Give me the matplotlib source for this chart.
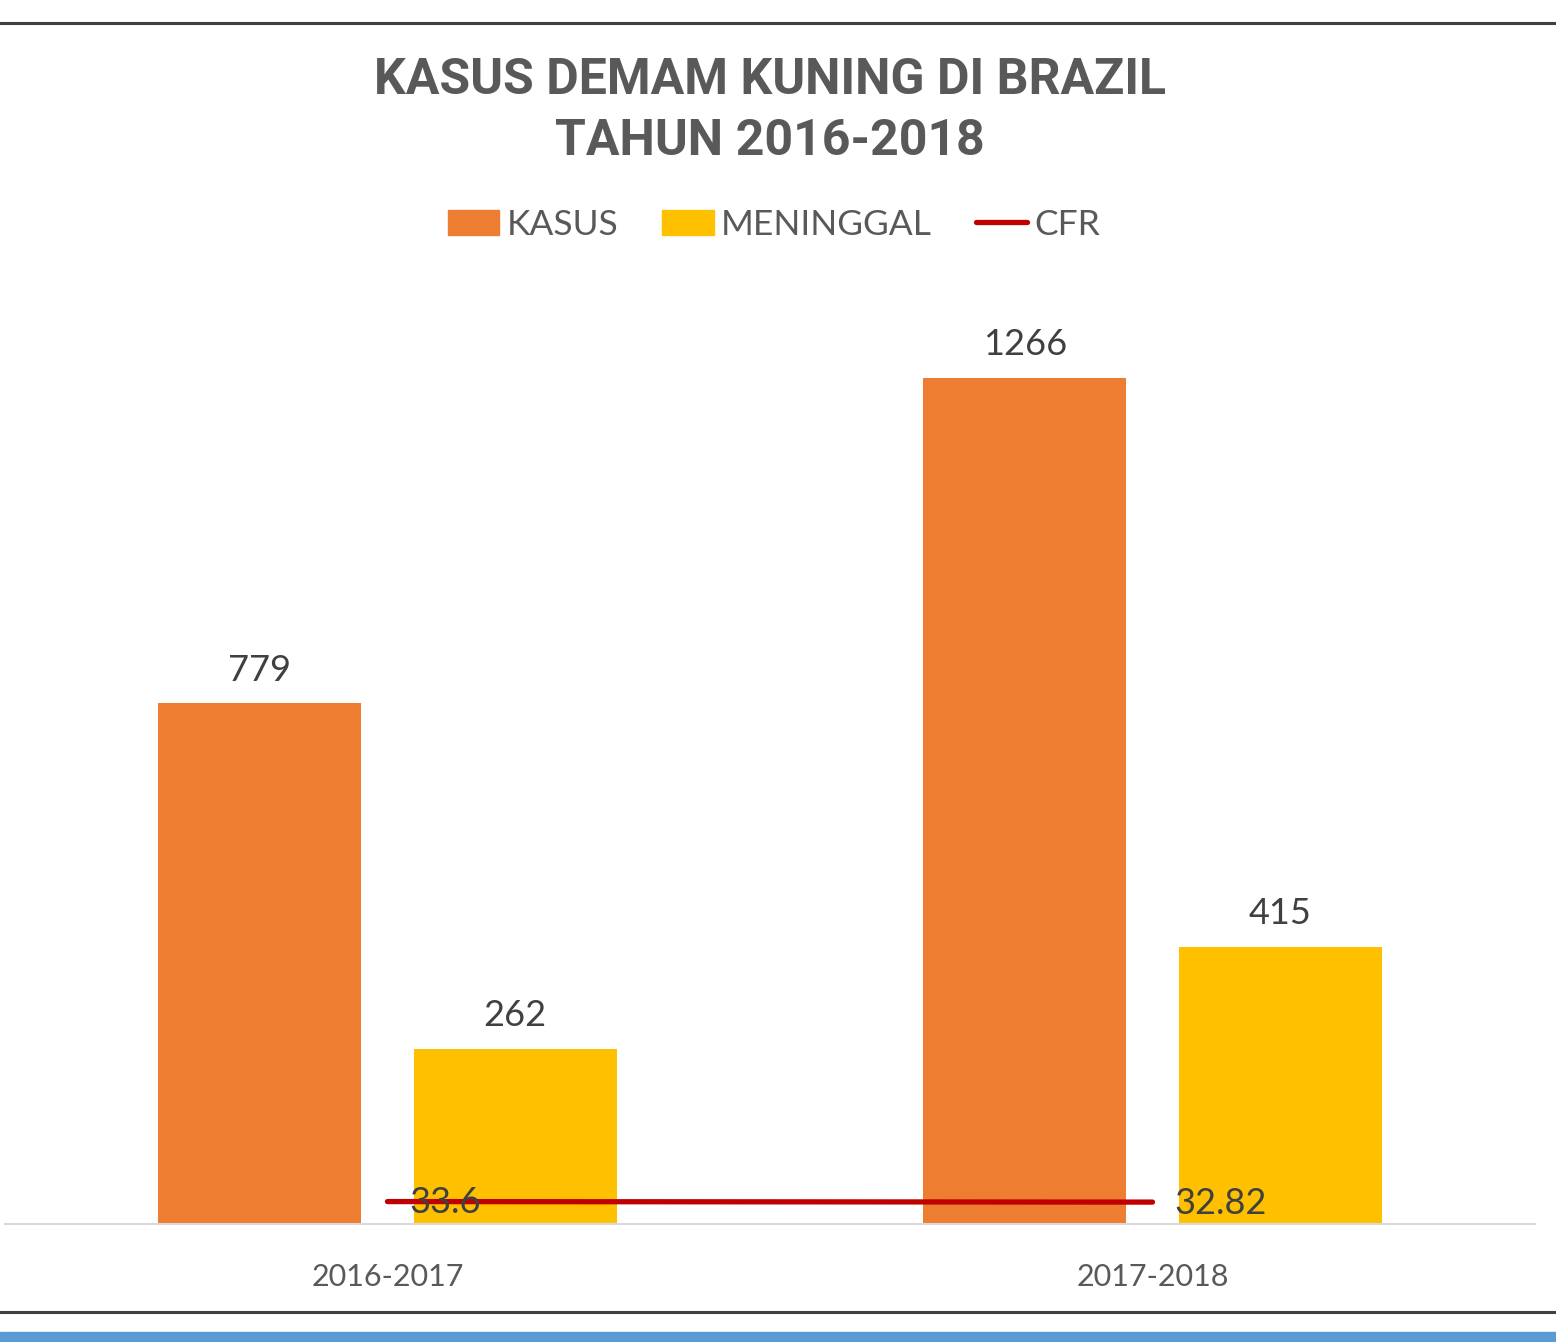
import matplotlib
matplotlib.use('Agg')
import matplotlib.pyplot as plt
from matplotlib.lines import Line2D
import numpy as np

# data
periods = ['2016-2017', '2017-2018']
kasus = [779, 1266]
meninggal = [262, 415]
cfr = [33.6, 32.82]
cfr_labels = ['33.6', '32.82']

orange = '#ED7D31'
yellow = '#FFC000'
red = '#C00000'
grey_txt = '#595959'

plt.rcParams['font.family'] = ['Lato', 'DejaVu Sans']

fig = plt.figure(figsize=(15.56, 13.42), dpi=100)
ax = fig.add_axes([5 / 1556, 0.0879, 1530 / 1556, 0.6975])

x = np.arange(len(periods))
w = 0.265
off = 0.167
b1 = ax.bar(x - off, kasus, w, color=orange, label='KASUS', zorder=2)
b2 = ax.bar(x + off, meninggal, w, color=yellow, label='MENINGGAL', zorder=2)
ax.plot(x, cfr, color=red, lw=3.8, solid_capstyle='round', zorder=3)

ax.bar_label(b1, labels=[str(v) for v in kasus], padding=12, fontsize=26, color='#404040')
ax.bar_label(b2, labels=[str(v) for v in meninggal], padding=12, fontsize=26, color='#404040')
for xi, yi, lab in zip(x, cfr, cfr_labels):
    ax.annotate(lab, (xi, yi), xytext=(16, -1), textcoords='offset points',
                ha='left', va='center', fontsize=26, color='#404040', zorder=4)

ax.set_xlim(-0.5, 1.5)
ax.set_ylim(0, 1400)
ax.set_xticks(x)
ax.set_xticklabels(periods, fontsize=22, color=grey_txt)
ax.tick_params(axis='x', length=0, pad=28)
ax.set_yticks([])
for s in ['top', 'left', 'right']:
    ax.spines[s].set_visible(False)
ax.spines['bottom'].set_color('#D9D9D9')
ax.spines['bottom'].set_linewidth(1.5)

# title
fig.text(0.495, 1 - 111 / 1342, 'KASUS DEMAM KUNING DI BRAZIL\nTAHUN 2016-2018',
         ha='center', va='center', fontsize=36, fontweight='bold', color=grey_txt,
         family=['Roboto', 'DejaVu Sans'], linespacing=1.4)

handles = [plt.Rectangle((0, 0), 1, 1, color=orange),
           plt.Rectangle((0, 0), 1, 1, color=yellow),
           Line2D([0], [0], color=red, lw=3.8, solid_capstyle='round')]
fig.legend(handles, ['KASUS', 'MENINGGAL', 'CFR'], loc='center',
           bbox_to_anchor=(774 / 1556, 1 - 225 / 1342), ncol=3, frameon=False,
           fontsize=25.5, labelcolor=grey_txt, handlelength=1.45, handleheight=0.72,
           handletextpad=0.2, columnspacing=1.25)

# frame lines and bottom strip
fig.add_artist(Line2D([0, 1], [1 - 23 / 1342, 1 - 23 / 1342], color='#404040', lw=2.2))
fig.add_artist(Line2D([0, 1], [1 - 1312 / 1342, 1 - 1312 / 1342], color='#404040', lw=2.2))
fig.add_artist(plt.Rectangle((0, 0), 1, 10 / 1342, color='#5B9BD5', transform=fig.transFigure))

fig.savefig('out.png', dpi=100, facecolor='white')
